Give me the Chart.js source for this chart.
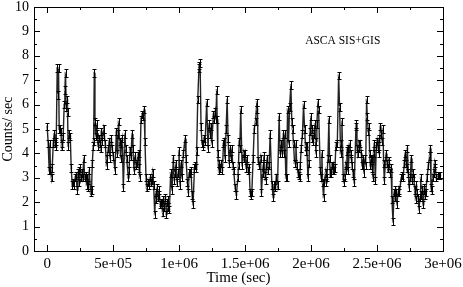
<!DOCTYPE html>
<html>
<head>
<meta charset="utf-8">
<script src="https://cdn.jsdelivr.net/npm/chart.js@4.4.1/dist/chart.umd.min.js"></script>
<style>
  html, body { margin: 0; padding: 0; background: #fff; }
  canvas { display: block; }
</style>
</head>
<body>
<canvas id="lc" width="463" height="287"></canvas>
<script>
// bin times in ks, rates in counts/sec
const times = [
  0, 7.6, 15, 20, 25, 33, 38, 46, 53, 58, 63, 68, 76, 81, 86, 91, 99, 104, 109, 114,
  116, 121, 129, 134, 139, 144, 152, 154, 159, 167, 175, 182, 190, 195, 202, 210, 218, 228, 233, 240,
  243, 248, 256, 261, 268, 278, 283, 291, 299, 304, 306, 311, 319, 329, 336, 342, 349, 352, 357, 362,
  367, 374, 380, 385, 392, 397, 405, 410, 415, 428, 433, 440, 450, 455, 463, 468, 476, 486, 493, 501,
  514, 524, 531, 536, 541, 549, 557, 562, 569, 577, 589, 595, 602, 615, 620, 627, 635, 643, 650, 658,
  663, 670, 678, 686, 693, 696, 701, 711, 721, 729, 734, 741, 749, 754, 767, 772, 777, 784, 792, 799,
  807, 815, 822, 827, 832, 840, 845, 850, 858, 863, 868, 875, 880, 886, 896, 903, 908, 913, 918, 926,
  936, 946, 956, 964, 969, 977, 984, 992, 999, 1007, 1015, 1022, 1032, 1045, 1052, 1063, 1070, 1075, 1083, 1090,
  1098, 1106, 1116, 1121, 1128, 1133, 1141, 1151, 1154, 1159, 1166, 1174, 1179, 1184, 1189, 1197, 1209, 1219, 1227, 1232,
  1240, 1247, 1260, 1265, 1273, 1278, 1285, 1288, 1293, 1300, 1305, 1313, 1321, 1328, 1336, 1341, 1348, 1356, 1364, 1371,
  1379, 1386, 1392, 1399, 1407, 1414, 1424, 1434, 1445, 1450, 1455, 1460, 1467, 1477, 1488, 1493, 1500, 1508, 1515, 1523,
  1531, 1538, 1543, 1551, 1561, 1569, 1579, 1589, 1594, 1599, 1607, 1617, 1624, 1632, 1637, 1642, 1650, 1655, 1662, 1667,
  1675, 1682, 1690, 1703, 1713, 1718, 1723, 1730, 1736, 1746, 1758, 1766, 1771, 1779, 1791, 1796, 1801, 1809, 1814, 1822,
  1829, 1837, 1847, 1854, 1860, 1867, 1875, 1880, 1885, 1892, 1900, 1905, 1913, 1918, 1925, 1935, 1943, 1951, 1958, 1963,
  1968, 1976, 1984, 1991, 1999, 2004, 2009, 2014, 2021, 2029, 2037, 2039, 2044, 2052, 2057, 2070, 2077, 2082, 2087, 2095,
  2100, 2110, 2115, 2120, 2128, 2135, 2140, 2145, 2150, 2156, 2163, 2168, 2173, 2181, 2188, 2193, 2199, 2209, 2216, 2224,
  2229, 2234, 2244, 2249, 2254, 2262, 2267, 2272, 2277, 2282, 2292, 2300, 2305, 2310, 2317, 2328, 2340, 2343, 2348, 2353,
  2360, 2366, 2373, 2381, 2386, 2391, 2396, 2401, 2406, 2414, 2421, 2426, 2434, 2439, 2444, 2449, 2454, 2459, 2462, 2469,
  2474, 2479, 2487, 2495, 2500, 2505, 2512, 2517, 2525, 2530, 2538, 2545, 2550, 2555, 2568, 2575, 2580, 2588, 2593, 2601,
  2606, 2613, 2621, 2629, 2634, 2639, 2646, 2651, 2659, 2664, 2669, 2684, 2692, 2697, 2707, 2712, 2717, 2725, 2730, 2737,
  2743, 2753, 2758, 2765, 2770, 2778, 2786, 2793, 2798, 2803, 2811, 2818, 2826, 2831, 2836, 2841, 2849, 2854, 2859, 2864,
  2869, 2879, 2889, 2899, 2904, 2909, 2914, 2921, 2929, 2937, 2942, 2950, 2960, 2970, 2980
];
const rates = [
  5.1, 4.4, 3.3, 4.4, 3.3, 3.0, 3.4, 4.4, 4.8, 4.4, 4.5, 4.3, 7.5, 6.4, 7.5, 5.0, 5.0, 4.9, 4.3, 4.4,
  4.3, 4.7, 6.0, 6.6, 7.3, 5.9, 6.2, 5.7, 4.3, 4.8, 4.7, 3.4, 2.7, 2.8, 2.7, 3.0, 3.1, 2.5, 3.2, 3.3,
  2.8, 3.4, 3.0, 3.2, 3.0, 3.8, 3.0, 3.1, 2.7, 3.0, 2.7, 2.6, 3.3, 2.4, 2.5, 3.6, 4.3, 4.5, 7.3, 5.3,
  4.7, 5.2, 4.8, 4.3, 4.6, 4.4, 4.2, 4.9, 4.5, 5.0, 4.7, 4.4, 3.5, 3.8, 4.2, 4.5, 3.8, 4.6, 4.2, 3.9,
  3.3, 4.9, 4.0, 4.8, 5.3, 4.5, 3.8, 4.4, 4.6, 2.6, 4.8, 4.2, 3.8, 3.0, 3.3, 4.1, 3.9, 4.8, 4.2, 3.3,
  3.9, 3.5, 3.6, 3.9, 4.0, 3.4, 3.0, 5.4, 5.6, 5.5, 5.8, 4.5, 3.0, 2.6, 2.8, 2.7, 3.0, 2.8, 2.9, 3.2,
  2.7, 1.5, 2.4, 2.1, 2.6, 2.2, 2.5, 2.3, 1.9, 2.0, 2.0, 1.6, 2.1, 1.8, 2.2, 1.5, 2.0, 1.8, 2.1, 1.7,
  3.2, 2.5, 3.8, 2.9, 3.2, 3.6, 2.8, 3.2, 4.1, 2.7, 3.6, 3.0, 4.0, 4.6, 3.8, 2.8, 2.4, 3.2, 3.2, 3.3,
  2.3, 1.9, 3.4, 3.5, 3.4, 4.1, 6.2, 7.6, 7.5, 7.7, 5.1, 4.4, 4.4, 4.3, 4.6, 4.5, 6.1, 4.2, 5.2, 4.8,
  5.1, 4.4, 5.6, 5.4, 5.7, 5.4, 6.6, 5.4, 4.0, 3.3, 3.6, 3.4, 3.6, 3.3, 4.4, 4.5, 3.8, 5.0, 6.2, 4.6,
  3.6, 4.2, 3.8, 4.2, 3.5, 3.3, 2.6, 2.3, 3.0, 3.5, 4.5, 4.2, 5.8, 3.5, 4.0, 3.8, 4.0, 3.4, 3.8, 3.3,
  3.4, 2.4, 2.3, 2.4, 3.8, 5.0, 5.3, 6.1, 5.8, 3.7, 3.5, 3.8, 2.4, 3.2, 3.5, 3.9, 3.1, 2.9, 3.5, 3.8,
  3.3, 3.5, 4.8, 2.7, 2.2, 2.7, 2.7, 2.6, 3.0, 2.7, 5.5, 4.0, 4.4, 4.0, 4.8, 4.0, 4.8, 3.0, 3.0, 5.8,
  4.4, 5.9, 6.8, 5.3, 5.0, 4.4, 3.6, 3.6, 4.4, 3.5, 3.2, 3.1, 3.0, 3.5, 4.2, 4.8, 6.0, 5.0, 4.3, 4.1,
  4.3, 3.0, 3.6, 4.9, 5.5, 5.0, 4.6, 4.5, 4.8, 5.2, 4.0, 4.5, 5.2, 6.1, 5.8, 3.3, 3.0, 4.0, 2.8, 2.2,
  2.8, 3.2, 2.8, 3.0, 3.8, 5.4, 3.8, 3.2, 3.2, 3.5, 3.3, 3.5, 3.3, 3.4, 4.3, 4.4, 4.4, 7.2, 5.9, 4.0,
  4.4, 5.3, 3.0, 2.8, 3.0, 3.5, 3.3, 4.1, 4.2, 3.3, 4.4, 4.0, 3.8, 3.5, 3.2, 2.8, 5.1, 5.2, 4.2, 4.0,
  4.4, 4.2, 4.4, 4.0, 3.5, 3.8, 3.5, 3.2, 3.8, 3.5, 6.2, 5.5, 4.9, 5.1, 4.0, 3.5, 3.8, 3.4, 3.8, 3.0,
  4.0, 4.4, 2.9, 4.3, 4.5, 4.2, 4.6, 4.0, 5.1, 4.8, 4.5, 5.0, 3.6, 2.9, 4.0, 3.6, 3.4, 3.7, 3.6, 3.2,
  3.4, 2.1, 1.2, 2.4, 2.5, 2.2, 2.4, 1.9, 2.4, 2.5, 2.4, 3.0, 3.1, 3.0, 3.6, 4.0, 3.6, 3.4, 4.2, 3.2,
  2.6, 3.0, 3.8, 2.9, 3.2, 3.0, 2.5, 2.1, 2.7, 2.4, 2.2, 1.7, 2.2, 3.0, 2.3, 2.5, 1.9, 2.5, 2.6, 2.3,
  2.4, 3.0, 3.5, 3.9, 4.2, 2.6, 2.5, 3.0, 3.2, 3.6, 3.4, 3.0, 3.1, 3.1, 3.1
];
const rateErr = 0.15;

const xTickValues = [0, 5e5, 1e6, 1.5e6, 2e6, 2.5e6, 3e6];
const xTickLabels = ['0', '5e+05', '1e+06', '1.5e+06', '2e+06', '2.5e+06', '3e+06'];
const yTickValues = [0, 1, 2, 3, 4, 5, 6, 7, 8, 9, 10];

const SERIF = "'Liberation Serif', 'Times New Roman', serif";

const errorBars = {
  id: 'errorBars',
  afterDatasetsDraw(chart) {
    const { ctx, scales: { x, y } } = chart;
    ctx.save();
    ctx.strokeStyle = '#000';
    ctx.lineWidth = 1;
    ctx.beginPath();
    rates.forEach((r, i) => {
      const px = Math.round(x.getPixelForValue(times[i] * 1000)) + 0.5;
      const top = Math.round(y.getPixelForValue(r + rateErr)) + 0.5;
      const bot = Math.round(y.getPixelForValue(r - rateErr)) + 0.5;
      ctx.moveTo(px, top); ctx.lineTo(px, bot);
      ctx.moveTo(px - 2, top); ctx.lineTo(px + 2, top);
      ctx.moveTo(px - 2, bot); ctx.lineTo(px + 2, bot);
    });
    ctx.stroke();
    ctx.restore();
  }
};

// frame with inward ticks on all four sides, plus the label
const frame = {
  id: 'frame',
  afterDraw(chart) {
    const { ctx, chartArea: a, scales: { x, y } } = chart;
    ctx.save();
    ctx.strokeStyle = '#000';
    ctx.lineWidth = 1;
    ctx.strokeRect(a.left + 0.5, a.top + 0.5, a.right - a.left, a.bottom - a.top);
    ctx.beginPath();
    for (let v = 0; v <= 3e6; v += 2.5e5) {
      const len = v % 5e5 === 0 ? 6 : 3;
      const px = Math.round(x.getPixelForValue(v)) + 0.5;
      ctx.moveTo(px, a.bottom); ctx.lineTo(px, a.bottom - len);
      ctx.moveTo(px, a.top); ctx.lineTo(px, a.top + len);
    }
    for (let v = 0; v <= 10; v += 0.5) {
      const len = v % 1 === 0 ? 6 : 3;
      const py = Math.round(y.getPixelForValue(v)) + 0.5;
      ctx.moveTo(a.left, py); ctx.lineTo(a.left + len, py);
      ctx.moveTo(a.right, py); ctx.lineTo(a.right - len, py);
    }
    ctx.stroke();
    ctx.fillStyle = '#000';
    ctx.font = '11.5px ' + SERIF;
    ctx.textBaseline = 'middle';
    ctx.fillText('ASCA SIS+GIS', x.getPixelForValue(1.955e6), y.getPixelForValue(8.6));
    ctx.restore();
  }
};

new Chart(document.getElementById('lc'), {
  type: 'line',
  data: {
    datasets: [{
      data: times.map((t, i) => ({ x: t * 1000, y: rates[i] })),
      borderColor: '#222',
      borderWidth: 1.4,
      pointStyle: 'rect',
      pointRadius: 1.5,
      pointBorderWidth: 0,
      pointBackgroundColor: '#888',
      tension: 0
    }]
  },
  options: {
    responsive: false,
    animation: false,
    devicePixelRatio: 1,
    layout: { padding: { top: 7, right: 20, left: 0, bottom: 0 } },
    plugins: { legend: { display: false }, tooltip: { enabled: false } },
    scales: {
      x: {
        type: 'linear',
        min: -1e5,
        max: 3e6,
        grid: { display: false, drawTicks: false },
        border: { display: false },
        afterBuildTicks: s => { s.ticks = xTickValues.map(v => ({ value: v })); },
        afterFit: s => { s.height = 36; s.paddingLeft = 0; s.paddingRight = 0; },
        ticks: {
          autoSkip: false,
          maxRotation: 0,
          padding: 4,
          color: '#000',
          font: { family: SERIF, size: 15 },
          callback: v => xTickLabels[xTickValues.indexOf(v)]
        },
        title: {
          display: true,
          text: 'Time (sec)',
          color: '#000',
          font: { family: SERIF, size: 15 },
          padding: 0
        }
      },
      y: {
        min: 0,
        max: 10,
        grid: { display: false, drawTicks: false },
        border: { display: false },
        afterBuildTicks: s => { s.ticks = yTickValues.map(v => ({ value: v })); },
        afterFit: s => { s.width = 34; s.paddingTop = 0; s.paddingBottom = 0; },
        ticks: {
          padding: 5,
          color: '#000',
          font: { family: SERIF, size: 14 }
        },
        title: {
          display: true,
          text: 'Counts/ sec',
          color: '#000',
          font: { family: SERIF, size: 14 },
          padding: 0
        }
      }
    }
  },
  plugins: [errorBars, frame]
});
</script>
</body>
</html>
